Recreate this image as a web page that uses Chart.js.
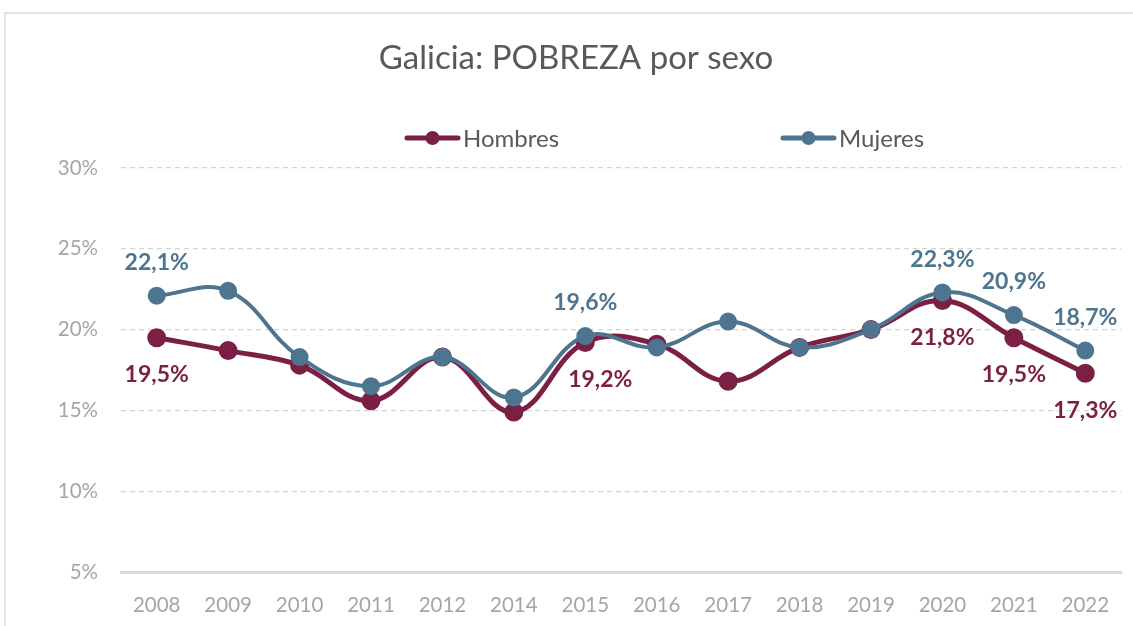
<!DOCTYPE html>
<html>
<head>
<meta charset="utf-8">
<title>Galicia: POBREZA por sexo</title>
<script src="https://cdn.jsdelivr.net/npm/chart.js@4.4.1/dist/chart.umd.min.js"></script>
<style>
    html, body { margin: 0; padding: 0; background: #fff; }
    #wrap { width: 1133px; height: 626px; position: relative; }
</style>
</head>
<body>
<div id="wrap"><canvas id="chart"></canvas></div>
<script>
// Chart data
const chartTitle = 'Galicia: POBREZA por sexo';
const years = ['2008', '2009', '2010', '2011', '2012', '2014', '2015', '2016', '2017', '2018', '2019', '2020', '2021', '2022'];
const hombres = [19.5, 18.7, 17.8, 15.6, 18.3, 14.9, 19.2, 19.1, 16.8, 18.9, 20.0, 21.8, 19.5, 17.3];
const mujeres = [22.1, 22.4, 18.3, 16.5, 18.3, 15.8, 19.6, 18.9, 20.5, 18.9, 20.0, 22.3, 20.9, 18.7];
const yTicks = [5, 10, 15, 20, 25, 30];
// points that carry a value label
const labelIdx = [0, 6, 11, 12, 13];

const FONT = 'Lato, "Open Sans", sans-serif';
const colHombres = '#7b1f45';
const colMujeres = '#4d7590';

const fmt = v => v.toFixed(1).replace('.', ',') + '%';

// Frame, title and legend drawn by hand
const decorPlugin = {
    id: 'decor',
    beforeDraw(chart) {
        const ctx = chart.ctx;
        ctx.save();
        ctx.strokeStyle = '#d9d9d9';
        ctx.lineWidth = 1.5;
        ctx.strokeRect(5, 13, 1300, 800);
        ctx.restore();
    },
    afterDraw(chart) {
        const ctx = chart.ctx;
        ctx.save();
        ctx.fillStyle = '#595959';
        ctx.font = '33px ' + FONT;
        ctx.textAlign = 'center';
        ctx.textBaseline = 'middle';
        ctx.fillText(chartTitle, 576, 58);

        const items = [
            { text: 'Hombres', color: colHombres, x: 405 },
            { text: 'Mujeres', color: colMujeres, x: 781 }
        ];
        items.forEach(it => {
            ctx.strokeStyle = it.color;
            ctx.lineWidth = 5;
            ctx.lineCap = 'round';
            ctx.beginPath();
            ctx.moveTo(it.x + 2, 138);
            ctx.lineTo(it.x + 53, 138);
            ctx.stroke();
            ctx.fillStyle = it.color;
            ctx.beginPath();
            ctx.arc(it.x + 27.5, 138, 7, 0, 2 * Math.PI);
            ctx.fill();
            ctx.fillStyle = '#595959';
            ctx.font = '24px ' + FONT;
            ctx.textAlign = 'left';
            ctx.textBaseline = 'middle';
            ctx.fillText(it.text, it.x + 58, 139);
        });
        ctx.restore();
    }
};

// Value labels above (Mujeres) and below (Hombres) the points
const valueLabels = {
    id: 'valueLabels',
    afterDatasetsDraw(chart) {
        const ctx = chart.ctx;
        ctx.save();
        ctx.font = 'bold 23px ' + FONT;
        ctx.textAlign = 'center';
        ctx.textBaseline = 'middle';
        chart.data.datasets.forEach((ds, di) => {
            const meta = chart.getDatasetMeta(di);
            ctx.fillStyle = ds.borderColor;
            labelIdx.forEach(i => {
                const pt = meta.data[i];
                let dx = 0;
                let dy = ds.label === 'Mujeres' ? -33 : 37;
                if (ds.label === 'Hombres' && i === 6) dx = 15;
                ctx.fillText(fmt(ds.data[i]), pt.x + dx, pt.y + dy);
            });
        });
        ctx.restore();
    }
};

const config = {
    type: 'line',
    data: {
        labels: years,
        datasets: [
            {
                label: 'Mujeres',
                data: mujeres,
                borderColor: colMujeres,
                backgroundColor: colMujeres,
                borderWidth: 4,
                pointRadius: 7,
                pointHoverRadius: 7,
                tension: 0.4,
                order: 0
            },
            {
                label: 'Hombres',
                data: hombres,
                borderColor: colHombres,
                backgroundColor: colHombres,
                borderWidth: 5,
                pointRadius: 7,
                pointHoverRadius: 7,
                tension: 0.4,
                order: 1
            }
        ]
    },
    options: {
        responsive: true,
        maintainAspectRatio: false,
        animation: false,
        layout: { padding: { top: 168, right: 11, left: 0, bottom: 0 } },
        plugins: {
            legend: { display: false },
            title: { display: false },
            tooltip: { enabled: false }
        },
        scales: {
            x: {
                offset: true,
                grid: { display: false, drawTicks: false },
                border: { display: true, color: '#d9d9d9', width: 3 },
                ticks: {
                    color: '#a6a6a6',
                    font: { family: FONT, size: 20.5 },
                    padding: 21,
                    maxRotation: 0,
                    autoSkip: false
                },
                afterFit(scale) { scale.height = 54; }
            },
            y: {
                min: 5,
                max: 30,
                afterBuildTicks(scale) { scale.ticks = yTicks.map(v => ({ value: v })); },
                grid: { color: '#d4d4d4', lineWidth: 1.2, drawTicks: false },
                border: { display: false, dash: [5, 4] },
                ticks: {
                    color: '#a6a6a6',
                    font: { family: FONT, size: 20.5 },
                    padding: 23,
                    callback: v => v + '%'
                },
                afterFit(scale) { scale.width = 121; }
            }
        }
    },
    plugins: [decorPlugin, valueLabels]
};

new Chart(document.getElementById('chart'), config);
</script>
</body>
</html>
